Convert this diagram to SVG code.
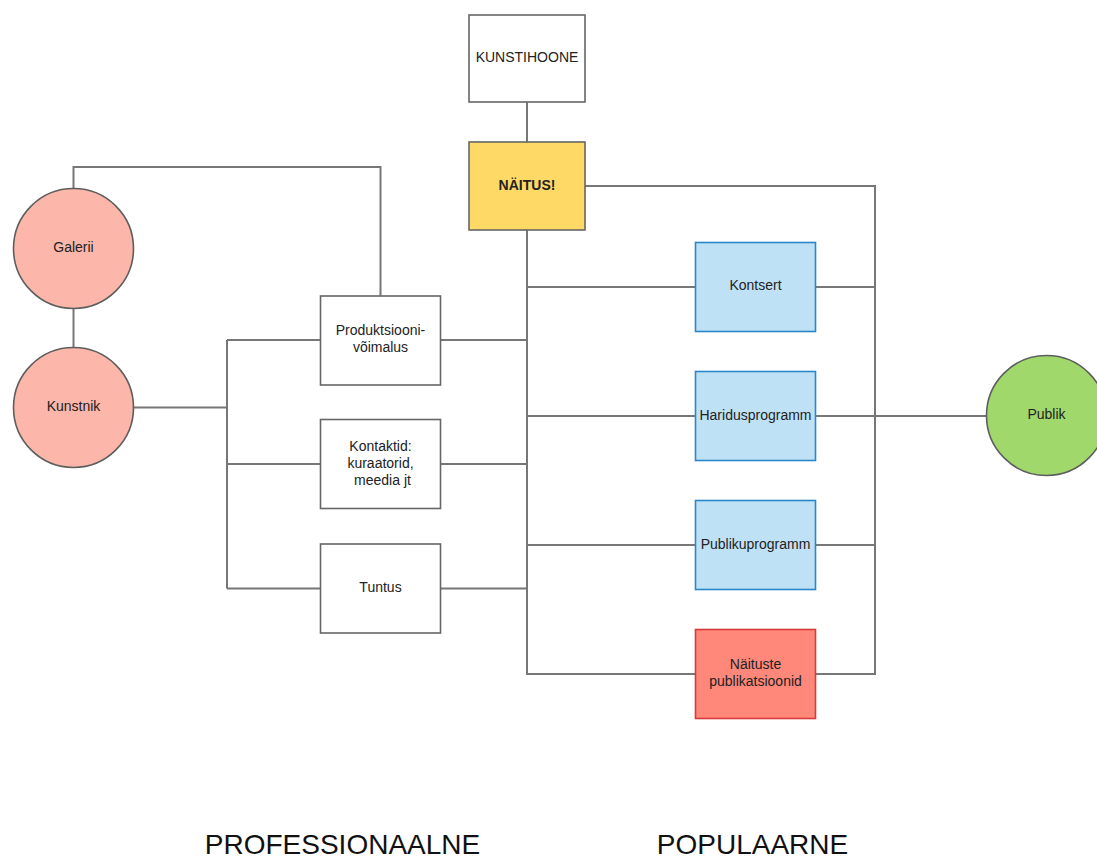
<svg xmlns="http://www.w3.org/2000/svg" width="1097" height="858" viewBox="0 0 1097 858">
<style>
text{font-family:"Liberation Sans",Arial,sans-serif;font-size:14px;fill:#222;text-anchor:middle}
.box{fill:#fff;stroke:#666;stroke-width:1.6}
.blue{fill:#bfe1f6;stroke:#2b87c9;stroke-width:1.6}
.red{fill:#ff887a;stroke:#d63a3a;stroke-width:1.6}
.yel{fill:#ffd966;stroke:#666;stroke-width:1.6}
.pink{fill:#fcb6aa;stroke:#5e5e5e;stroke-width:1.6}
.green{fill:#a1d86b;stroke:#5e5e5e;stroke-width:1.6}
.conn path{fill:none;stroke:#777;stroke-width:2}
.big{font-size:28px;fill:#111}
</style>
<rect width="1097" height="858" fill="#fff"/>
<g class="conn" id="connectors">
<path d="M527 102V142"/>
<path d="M73.5 189V167H380.5V296"/>
<path d="M73.5 308V348"/>
<path d="M134 407.5H227M227 340V588.5M227 340H320M227 464H320M227 588.5H320"/>
<path d="M440 340H527M440 464H527M440 588.5H527"/>
<path d="M527 230V674H695M527 287H695M527 416H695M527 545H695"/>
<path d="M585 186H875V674H815M815 287H875M815 545H875M815 416H987"/>
</g>
<g id="kunstihoone"><rect class="box" x="469" y="15" width="116" height="87"/><text x="527" y="62">KUNSTIHOONE</text></g>
<g id="naitus"><rect class="yel" x="469" y="142" width="116" height="88"/><text x="527" y="190">NÄITUS!</text></g>
<g id="galerii"><circle class="pink" cx="73.5" cy="248.5" r="60"/><text x="73.5" y="252">Galerii</text></g>
<g id="kunstnik"><circle class="pink" cx="73.5" cy="407.5" r="60"/><text x="73.5" y="411">Kunstnik</text></g>
<g id="produktsioon"><rect class="box" x="320.5" y="296" width="120" height="89"/><text x="380.5" y="334.5">Produktsiooni-</text><text x="380.5" y="351.5">võimalus</text></g>
<g id="kontaktid"><rect class="box" x="320.5" y="419.5" width="120" height="89"/><text x="380.5" y="450.5">Kontaktid:</text><text x="380.5" y="467.5">kuraatorid,</text><text x="382.5" y="484.5">meedia jt</text></g>
<g id="tuntus"><rect class="box" x="320.5" y="544" width="120" height="89"/><text x="380.5" y="592">Tuntus</text></g>
<g id="kontsert"><rect class="blue" x="695.5" y="242.5" width="120" height="89"/><text x="755.5" y="290">Kontsert</text></g>
<g id="haridusprogramm"><rect class="blue" x="695.5" y="371.5" width="120" height="89"/><text x="755.5" y="419.5">Haridusprogramm</text></g>
<g id="publikuprogramm"><rect class="blue" x="695.5" y="500.5" width="120" height="89"/><text x="755.5" y="548.5">Publikuprogramm</text></g>
<g id="publikatsioonid"><rect class="red" x="695.5" y="629.5" width="120" height="89"/><text x="755.5" y="668.5">Näituste</text><text x="755.5" y="685.5">publikatsioonid</text></g>
<g id="publik"><circle class="green" cx="1046.5" cy="415.5" r="60"/><text x="1046.5" y="419">Publik</text></g>
<g id="labels"><text class="big" x="342.5" y="854">PROFESSIONAALNE</text><text class="big" x="752.5" y="854">POPULAARNE</text></g>
<style>#naitus text{font-weight:bold}</style>
</svg>
